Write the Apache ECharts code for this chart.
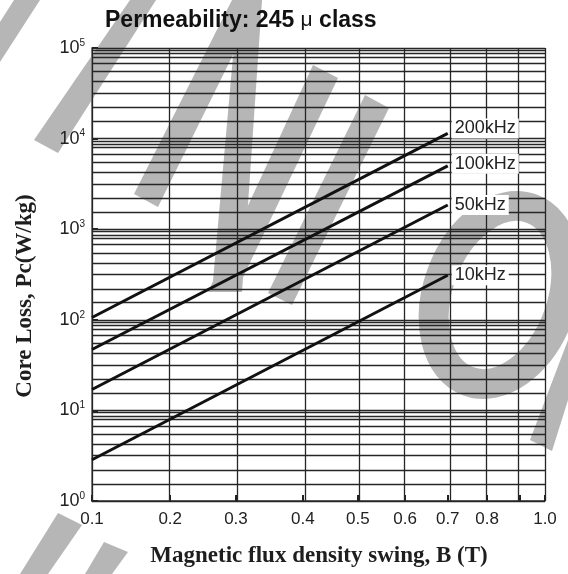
<!DOCTYPE html>
<html><head><meta charset="utf-8">
<script src="https://cdn.jsdelivr.net/npm/echarts@6/dist/echarts.min.js"></script>
<style>html,body{margin:0;padding:0;background:#fff}#c{width:568px;height:574px}</style>
</head><body><div id="c"></div>
<script>
// ---- data ----
const xTickLabels = ['0.1','0.2','0.3','0.4','0.5','0.6','0.7','0.8','','1.0'];
const xTickValues = [0.1,0.2,0.3,0.4,0.5,0.6,0.7,0.8,0.9,1.0];
// printed (non-uniform) B scale: fraction of axis length at each tick value
const xTickFrac = [0, 0.1727, 0.3178, 0.4655, 0.5868, 0.6911, 0.7853, 0.8720, 0.9448, 1];
const yDecades = [1, 10, 100, 1000, 10000, 100000];
const yMinorFactors = [1.55, 2.2, 3.16, 4.26, 5.48, 6.76, 7.94, 8.65, 9.43];
const seriesNames = ['200kHz', '100kHz', '50kHz', '10kHz'];
const bPoints = [0.1, 0.7];
const loss200k = [106, 11400];
const loss100k = [47, 5000];
const loss50k = [17, 1850];
const loss10k = [2.85, 310];

// ---- scale helper for printed B axis ----
function bToAxis(b) {
  for (let i = 0; i < xTickValues.length - 1; i++) {
    const a = xTickValues[i], c = xTickValues[i + 1];
    if (b <= c + 1e-9) {
      return xTickFrac[i] + (xTickFrac[i + 1] - xTickFrac[i]) * (b - a) / (c - a);
    }
  }
  return 1;
}
function labelFor(v) {
  let best = 0, d = 9;
  xTickFrac.forEach((f, i) => { if (Math.abs(f - v) < d) { d = Math.abs(f - v); best = i; } });
  return xTickLabels[best];
}

const lossSets = [loss200k, loss100k, loss50k, loss10k];
const labelOffsets = [[0, -5], [0, -2], [0, 0], [0, 0]];

const gridVals = [];
yDecades.forEach((d, i) => {
  gridVals.push(d);
  if (i < yDecades.length - 1) yMinorFactors.forEach(m => gridVals.push(d * m));
});

const INK = '#1e1e1e';
const WM = '#b6b6b6';

const lineSeries = seriesNames.map((name, k) => ({
  name: name,
  type: 'line',
  data: bPoints.map((b, i) => [bToAxis(b), lossSets[k][i]]),
  symbol: 'none',
  lineStyle: { color: '#111', width: 3 },
  z: 5,
  animation: false,
  endLabel: {
    show: true,
    formatter: name,
    distance: 4,
    offset: labelOffsets[k],
    color: '#222',
    fontSize: 18,
    fontFamily: 'Liberation Sans, Arial, sans-serif',
    backgroundColor: '#fff',
    padding: [1, 3, 1, 3]
  }
}));

const gridSeries = {
  type: 'line',
  data: [],
  silent: true,
  z: 2,
  animation: false,
  markLine: {
    silent: true,
    animation: false,
    symbol: ['none', 'none'],
    label: { show: false },
    lineStyle: { color: '#262626', width: 1.3, type: 'solid' },
    data: gridVals.map(v => ({ yAxis: v })).concat(xTickFrac.map(f => ({ xAxis: f })))
  }
};

const wmPolys = [
  [[0,22],[14,0],[40,0],[0,62]],
  [[130,0],[156,0],[58,153],[34,140]],
  [[232,0],[260,0],[158,207],[134,194]],
  [[238,0],[262,0],[242,292],[212,292]],
  [[313,65],[338,78],[236,292],[208,292]],
  [[365,95],[389,108],[292,305],[268,293]],
  [[530,440],[552,451],[568,400],[568,340]],
  [[20,574],[48,574],[82,525],[58,513]],
  [[85,574],[112,574],[128,552],[104,542]]
];
const graphics = wmPolys.map(p => ({
  type: 'polygon', z: -10, silent: true,
  shape: { points: p }, style: { fill: WM }
}));
graphics.push({
  type: 'ellipse', z: -10, silent: true, x: 500, y: 295, rotation: -0.35,
  shape: { cx: 0, cy: 0, rx: 62, ry: 92 },
  style: { fill: 'none', stroke: WM, lineWidth: 30 }
});
graphics.push({
  type: 'text', x: 319, y: 556, z: 10,
  style: { text: 'Magnetic flux density swing, B (T)', fill: INK,
    font: 'bold 23px "Liberation Serif", "Times New Roman", serif',
    textAlign: 'center', textVerticalAlign: 'middle' }
});
graphics.push({
  type: 'text', x: 25, y: 296, z: 10, rotation: Math.PI / 2,
  style: { text: 'Core Loss, Pc(W/kg)', fill: INK,
    font: 'bold 23px "Liberation Serif", "Times New Roman", serif',
    textAlign: 'center', textVerticalAlign: 'middle' }
});

const chart = echarts.init(document.getElementById('c'), null, { renderer: 'canvas' });
chart.setOption({
  backgroundColor: '#fff',
  animation: false,
  title: {
    text: '{a|Permeability: 245 }{b|μ}{a| class}',
    left: 100, top: 4,
    textStyle: {
      rich: {
        a: { fontSize: 23, fontWeight: 'bold', color: '#111', fontFamily: 'Liberation Sans, Arial, sans-serif' },
        b: { fontSize: 21, fontWeight: 'normal', color: '#111', fontFamily: 'Liberation Sans, Arial, sans-serif' }
      }
    }
  },
  grid: { left: 92, right: 23, top: 48, bottom: 73, containLabel: false },
  xAxis: {
    type: 'value', min: 0, max: 1,
    axisLine: { show: true, lineStyle: { color: '#333', width: 1.5 } },
    axisTick: { show: true, inside: true, length: 6, customValues: xTickFrac, lineStyle: { color: '#222', width: 2 } },
    axisLabel: {
      customValues: xTickFrac.filter((f, i) => xTickLabels[i] !== ''),
      formatter: v => labelFor(v),
      margin: 10, color: '#222', fontSize: 17,
      fontFamily: 'Liberation Sans, Arial, sans-serif'
    },
    splitLine: { show: false }
  },
  yAxis: {
    type: 'log', logBase: 10, min: 1, max: 100000,
    axisLine: { show: true, lineStyle: { color: '#888', width: 2 } },
    axisTick: { show: true, inside: true, length: 6, lineStyle: { color: '#222', width: 2 } },
    axisLabel: {
      margin: 7,
      formatter: v => '{b|10}{s|' + Math.round(Math.log10(v)) + '}',
      rich: {
        b: { fontSize: 18, color: '#222', fontFamily: 'Liberation Sans, Arial, sans-serif', lineHeight: 20 },
        s: { fontSize: 10, color: '#222', fontFamily: 'Liberation Sans, Arial, sans-serif', verticalAlign: 'top', lineHeight: 13 }
      }
    },
    splitLine: { show: false },
    minorTick: { show: false }
  },
  graphic: graphics,
  series: [gridSeries].concat(lineSeries)
});
</script>
</body></html>
